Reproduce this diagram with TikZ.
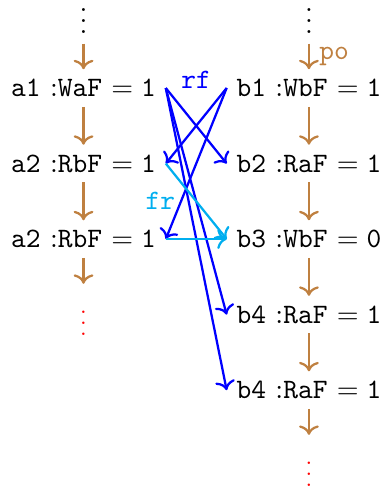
\documentclass[tikz,border=0pt]{standalone}
\usetikzlibrary{positioning, calc, arrows.meta}
\definecolor{pocol}{RGB}{191,128,64}
\definecolor{frcol}{RGB}{0,174,239}
\newcommand{\ev}[3]{\texttt{#1} :\texttt{#2} $= \texttt{#3}$}

\begin{document}
\begin{tikzpicture}[
  DT/.style={font=\footnotesize, red},
  PO/.style={-{To}, thick, pocol},
  RF/.style={-{To}, thick, blue},
  FR/.style={-{To}, thick, frcol},
  LB/.style={font=\ttfamily},
  node distance=0.945cm and 2.82cm, on grid
]
  \useasboundingbox (-1.045,1.101) rectangle (3.772,-4.979);

  % thread a
  \node               (a1)   {\ev{a1}{WaF}{1}};
  \node[above=of a1]  (atop) {$\vdots$};
  \node[below=of a1]  (a2)   {\ev{a2}{RbF}{1}};
  \node[below=of a2]  (a3)   {\ev{a2}{RbF}{1}};
  \node[DT,below=of a3] (aend) {$\vdots$};

  % thread b
  \node[right=of a1]  (b1)   {\ev{b1}{WbF}{1}};
  \node[above=of b1]  (btop) {$\vdots$};
  \node[below=of b1]  (b2)   {\ev{b2}{RaF}{1}};
  \node[below=of b2]  (b3)   {\ev{b3}{WbF}{0}};
  \node[below=of b3]  (b4)   {\ev{b4}{RaF}{1}};
  \node[below=of b4]  (b5)   {\ev{b4}{RaF}{1}};
  \node[DT,below=of b5] (bend) {$\vdots$};

  \foreach \u/\v in {atop/a1,a1/a2,a2/a3,a3/aend,b1/b2,b2/b3,b3/b4,b4/b5,b5/bend}
    \draw[PO] (\u) -- (\v);
  \draw[PO] (btop) -- node[LB, midway, right, pocol] (po) {po} (b1);

  % reads-from
  \foreach \v in {b2,b4,b5} \draw[RF] (a1.east) -- (\v.west);
  \foreach \v in {a2,a3}    \draw[RF] (b1.west) -- (\v.east);
  \node[LB, blue, anchor=base] (rf) at ($(a1.east)!.5!(b1.west)$) {rf};

  % from-reads
  \draw[FR] (a2.east) -- (b3.west);
  \draw[FR] (a3.east) -- (b3.west);
  \node[LB, frcol, anchor=east, xshift=-4pt] (fr) at ($(a2.east)!.5!(b3.west)$) {fr};
\end{tikzpicture}
\end{document}
